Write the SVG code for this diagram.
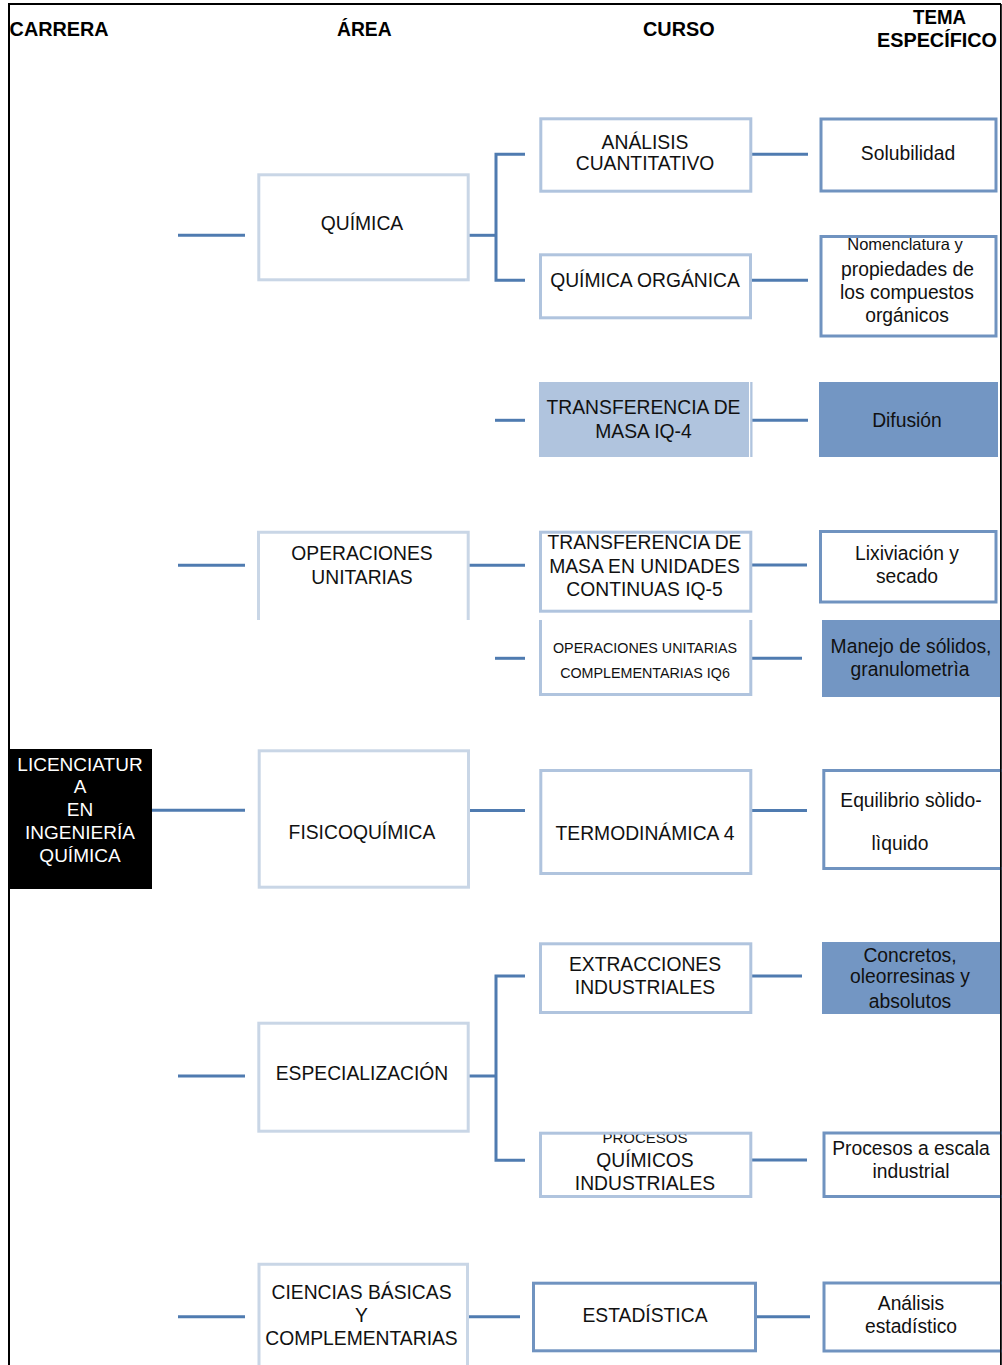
<svg xmlns="http://www.w3.org/2000/svg" width="1002" height="1365" viewBox="0 0 1002 1365">
<style>
text{font-family:"Liberation Sans",Arial,sans-serif;font-size:19.3px;fill:#111;text-anchor:middle}
.hd{font-weight:bold;font-size:19.5px;text-anchor:start;fill:#000}
.wt{fill:#fff;font-size:19px}
.sm{font-size:14.3px}
.area{fill:none;stroke:#c9d6e6;stroke-width:3}
.course{fill:none;stroke:#b0c4de;stroke-width:3}
.topic{fill:none;stroke:#7093c0;stroke-width:3}
.fillc{fill:#b0c4de}
.fillt{fill:#7396c3}
#connectors path{fill:none;stroke:#4f7bb0;stroke-width:3}
</style>
<rect width="1002" height="1365" fill="#fff"/>
<g id="frame" stroke="#000" fill="none">
<path d="M9,1365 V4" stroke-width="2"/>
<path d="M8,4 H1001" stroke-width="2"/>
<path d="M1000.8,4 V1365" stroke-width="1.5"/>
</g>
<g id="headers">
<text class="hd" x="9.6" y="36" textLength="99" lengthAdjust="spacingAndGlyphs">CARRERA</text>
<text class="hd" x="337" y="36" textLength="54.6" lengthAdjust="spacingAndGlyphs">ÁREA</text>
<text class="hd" x="643" y="36" textLength="71.6" lengthAdjust="spacingAndGlyphs">CURSO</text>
<text class="hd" x="913" y="23.5" textLength="53" lengthAdjust="spacingAndGlyphs">TEMA</text>
<text class="hd" x="877" y="47" textLength="120" lengthAdjust="spacingAndGlyphs">ESPECÍFICO</text>
</g>
<g id="connectors">
<path d="M178,235.3 H245"/>
<path d="M178,565.3 H245"/>
<path d="M152,810.3 H245"/>
<path d="M178,1076 H245"/>
<path d="M178,1316.7 H245"/>
<path d="M469,235.3 H496"/>
<path d="M525,154.3 H496 V280.3 H525"/>
<path d="M495,420.3 H525"/>
<path d="M469,565.3 H525"/>
<path d="M495,658.3 H525"/>
<path d="M469,810.5 H525"/>
<path d="M469,1076 H496"/>
<path d="M525,976 H496 V1160.3 H525"/>
<path d="M469,1316.7 H520"/>
<path d="M751,154.3 H808"/>
<path d="M751,280.3 H808"/>
<path d="M749,420.3 H808"/>
<path d="M751,565 H807"/>
<path d="M751,658.3 H802"/>
<path d="M751,810.5 H807"/>
<path d="M751,976 H802"/>
<path d="M751,1160 H807"/>
<path d="M757,1316.7 H810"/>
</g>
<g id="n-carrera">
<rect x="9" y="749" width="143" height="140" fill="#000"/>
<text class="wt" x="80" y="770.7">LICENCIATUR</text>
<text class="wt" x="80" y="793.3">A</text>
<text class="wt" x="80" y="816">EN</text>
<text class="wt" x="80" y="839">INGENIERÍA</text>
<text class="wt" x="80" y="861.7">QUÍMICA</text>
</g>
<g id="n-quimica">
<rect class="area" x="258.8" y="174.8" width="209.4" height="105"/>
<text x="362" y="230">QUÍMICA</text>
</g>
<g id="n-operaciones">
<path class="area" d="M258.5,620 V532.2 H468.2 V620"/>
<text x="362" y="560">OPERACIONES</text>
<text x="362" y="583.5">UNITARIAS</text>
</g>
<g id="n-fisicoquimica">
<rect class="area" x="259.2" y="750.8" width="209.3" height="136.4"/>
<text x="362" y="839">FISICOQUÍMICA</text>
</g>
<g id="n-especializacion">
<rect class="area" x="258.8" y="1023.2" width="209.4" height="108"/>
<text x="362" y="1080">ESPECIALIZACIÓN</text>
</g>
<g id="n-ciencias">
<path class="area" d="M259,1366 V1264.2 H467.5 V1366"/>
<text x="361.5" y="1298.5">CIENCIAS BÁSICAS</text>
<text x="361.5" y="1321.7">Y</text>
<text x="361.5" y="1345">COMPLEMENTARIAS</text>
</g>
<g id="n-analisis-cuant">
<rect class="course" x="540.8" y="118.8" width="210" height="72.4"/>
<text x="645" y="149">ANÁLISIS</text>
<text x="645" y="169.5">CUANTITATIVO</text>
</g>
<g id="n-quim-organica">
<rect class="course" x="540.5" y="254.8" width="210" height="63"/>
<text x="645" y="287">QUÍMICA ORGÁNICA</text>
</g>
<g id="n-transf-iq4">
<rect class="fillc" x="539" y="382" width="213.5" height="75"/>
<rect x="749" y="382" width="1.2" height="75" fill="#fff"/>
<text x="643.5" y="414">TRANSFERENCIA DE</text>
<text x="643.5" y="438">MASA IQ-4</text>
</g>
<g id="n-transf-iq5">
<rect class="course" x="540.5" y="532.2" width="210.3" height="79"/>
<text x="644.5" y="549.3">TRANSFERENCIA DE</text>
<text x="644.5" y="572.7">MASA EN UNIDADES</text>
<text x="644.5" y="596">CONTINUAS IQ-5</text>
</g>
<g id="n-oper-iq6">
<path class="course" d="M540.5,620 V694.5 H750.8 V620"/>
<text class="sm" x="645" y="653.3">OPERACIONES UNITARIAS</text>
<text class="sm" x="645" y="678.3">COMPLEMENTARIAS IQ6</text>
</g>
<g id="n-termo">
<rect class="course" x="540.8" y="770.5" width="210" height="103"/>
<text x="645" y="840">TERMODINÁMICA 4</text>
</g>
<g id="n-extracciones">
<rect class="course" x="540.5" y="943.8" width="210.3" height="68.7"/>
<text x="645" y="971">EXTRACCIONES</text>
<text x="645" y="994.3">INDUSTRIALES</text>
</g>
<g id="n-procesos-quim">
<text x="645" y="1143.3" style="font-size:15px">PROCESOS</text>
<rect class="course" x="540.5" y="1133.2" width="210.3" height="63.3"/>
<text x="645" y="1166.7">QUÍMICOS</text>
<text x="645" y="1190">INDUSTRIALES</text>
</g>
<g id="n-estadistica">
<rect class="topic" x="533.5" y="1283.2" width="222" height="67.6"/>
<text x="645" y="1321.7">ESTADÍSTICA</text>
</g>
<g id="n-solubilidad">
<rect class="topic" x="821" y="119" width="175" height="72"/>
<text x="908" y="160">Solubilidad</text>
</g>
<g id="n-nomenclatura">
<rect class="topic" x="821" y="236.5" width="175" height="99.5"/>
<text x="905" y="250" style="font-size:16.5px">Nomenclatura y</text>
<text x="907.5" y="276">propiedades de</text>
<text x="907" y="299.3">los compuestos</text>
<text x="907" y="322">orgánicos</text>
</g>
<g id="n-difusion">
<rect class="fillt" x="819" y="382" width="179" height="75"/>
<text x="907" y="427">Difusión</text>
</g>
<g id="n-lixiviacion">
<rect class="topic" x="820.5" y="531.5" width="175.5" height="70.5"/>
<text x="907" y="560">Lixiviación y</text>
<text x="907" y="583.3">secado</text>
</g>
<g id="n-manejo">
<rect class="fillt" x="822" y="620" width="178" height="77"/>
<text x="911" y="653.3">Manejo de sólidos,</text>
<text x="910" y="676">granulometrìa</text>
</g>
<g id="n-equilibrio">
<rect class="topic" x="823.8" y="770.5" width="190" height="98"/>
<text x="911" y="806.7">Equilibrio sòlido-</text>
<text x="900" y="850">lìquido</text>
</g>
<g id="n-concretos">
<rect class="fillt" x="822" y="942" width="178" height="72"/>
<text x="910" y="961.7">Concretos,</text>
<text x="910" y="983.3">oleorresinas y</text>
<text x="910" y="1007.7">absolutos</text>
</g>
<g id="n-procesos-escala">
<rect class="topic" x="824" y="1133" width="190" height="63.5"/>
<text x="911" y="1155">Procesos a escala</text>
<text x="911" y="1178.3">industrial</text>
</g>
<g id="n-analisis-est">
<rect class="topic" x="824" y="1283" width="190" height="68"/>
<text x="911" y="1310">Análisis</text>
<text x="911" y="1333.3">estadístico</text>
</g>
<path d="M1000.8,4 V1365" stroke="#000" stroke-width="1.5"/>
</svg>
